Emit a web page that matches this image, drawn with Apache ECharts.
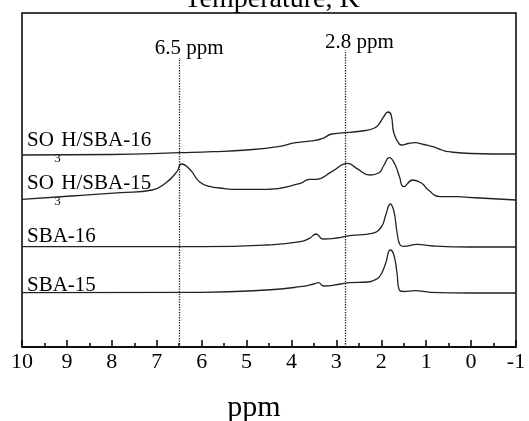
<!DOCTYPE html>
<html>
<head>
<meta charset="utf-8">
<script src="https://cdn.jsdelivr.net/npm/echarts@6/dist/echarts.min.js"></script>
<style>
html, body { margin: 0; padding: 0; background: #fff; }
#main { width: 529px; height: 421px; }
</style>
</head>
<body>
<div id="main"></div>
<script>
// spectra (ppm / intensity above each trace baseline)
var ppmSBA15 = [10, 6, 4.55, 3.8, 3.5, 3.4, 3.28, 2.9, 2.7, 2.3, 2.1, 2.0, 1.9, 1.8, 1.72, 1.65, 1.6, 1.5, 1.25, 0.9, 0, -1];
var intSBA15 = [0.3, 0.7, 3, 6.3, 9, 10.3, 7, 9, 10.3, 11, 14, 19, 30, 43, 38, 20, 3, 1.5, 2.3, 0.7, 0, 0];

var ppmSBA16 = [10, 6, 4.55, 3.8, 3.6, 3.45, 3.3, 3.0, 2.7, 2.2, 2.0, 1.9, 1.8, 1.72, 1.65, 1.58, 1.5, 1.2, 0.85, 0, -1];
var intSBA16 = [0.3, 0.3, 2, 5.3, 8.7, 13, 8, 9, 11.3, 13.7, 20, 32, 43, 36, 15, 2, 0.7, 2.7, 1, 0, 0];

var ppmSO3H15 = [10, 8.9, 7.8, 7.1, 6.8, 6.55, 6.45, 6.25, 6.05, 5.8, 5.6, 5.3, 4.55, 3.8, 3.6, 3.45, 3.1, 2.75, 2.55, 2.25, 2.05, 1.95, 1.82, 1.7, 1.6, 1.5, 1.3, 1.1, 0.95, 0.7, 0.3, 0, -1];
var intSO3H15 = [0.7, 4, 7.3, 10, 17, 28.3, 36, 30, 18.3, 13.3, 12, 10.7, 10.7, 16.7, 20.7, 20.7, 28.3, 36.7, 31.7, 25, 27.3, 34, 42.3, 36, 24, 13.3, 20, 16.7, 10, 3.3, 3.3, 2.5, 0];

var ppmSO3H16 = [10, 8, 6.5, 5.75, 5.0, 4.3, 3.9, 3.5, 3.3, 3.1, 2.7, 2.35, 2.15, 2.05, 1.95, 1.85, 1.78, 1.72, 1.6, 1.54, 1.4, 1.25, 1.05, 0.85, 0.65, 0.5, 0, -1];
var intSO3H16 = [-1, -0.5, 1.3, 2.3, 4, 7.3, 11.3, 13.3, 15.7, 20, 21.7, 23.5, 26, 30, 37, 42, 39, 21, 10, 9, 10.5, 11.3, 9.5, 7.3, 4, 2.3, 0.5, 0];

var seriesNames = ['SBA-15', 'SBA-16', 'SO3H/SBA-15', 'SO3H/SBA-16'];
var baselines = [54, 100, 147, 193];   // vertical stacking offsets
var refLines = [6.5, 2.8];
var refTops = [289, 297];
var refLabels = ['6.5 ppm', '2.8 ppm'];
var xTicks = [10, 9, 8, 7, 6, 5, 4, 3, 2, 1, 0, -1];

var ppmList = [ppmSBA15, ppmSBA16, ppmSO3H15, ppmSO3H16];
var intList = [intSBA15, intSBA16, intSO3H15, intSO3H16];

var serif = '"Liberation Serif", "DejaVu Serif", serif';
var chart = echarts.init(document.getElementById('main'));

var series = seriesNames.map(function (name, k) {
	return {
		type: 'line',
		name: name,
		data: ppmList[k].map(function (p, i) { return [p, baselines[k] + intList[k][i]]; }),
		showSymbol: false,
		smooth: 0.5,
		silent: true,
		lineStyle: { color: '#222', width: 1.3 }
	};
});

// dotted reference lines
series[0].markLine = {
	symbol: 'none',
	silent: true,
	label: { show: false },
	lineStyle: { type: 'dotted', color: '#222', width: 1.3 },
	data: refLines.map(function (r, i) {
		return [{ coord: [r, 0] }, { coord: [r, refTops[i]] }];
	})
};

chart.setOption({
	animation: false,
	backgroundColor: '#fff',
	grid: {
		left: 22, right: 13, top: 13, bottom: 74,
		outerBoundsMode: 'none', containLabel: false,
		show: true, borderColor: '#000', borderWidth: 1.5
	},
	xAxis: {
		type: 'value',
		inverse: true,
		min: -1,
		max: 10,
		interval: 1,
		name: 'ppm',
		nameLocation: 'middle',
		nameGap: 46,
		nameTextStyle: { fontFamily: serif, fontSize: 30, color: '#000', padding: [0, 30, 0, 0] },
		axisLine: { lineStyle: { color: '#000', width: 1.5 } },
		axisTick: { inside: true, length: 7, lineStyle: { color: '#000', width: 1.5 } },
		minorTick: { show: true, splitNumber: 2, length: 4, lineStyle: { color: '#000', width: 1.5 } },
		splitLine: { show: false },
		axisLabel: {
			margin: 4, fontFamily: serif, fontSize: 22, color: '#000',
			formatter: function (v) { return xTicks.indexOf(v) >= 0 ? String(v) : ''; }
		}
	},
	yAxis: {
		type: 'value', min: 0, max: 334, show: false, splitLine: { show: false }
	},
	series: series
});

// text annotations placed through the axes
function px(x, y) { return chart.convertToPixel({ gridIndex: 0 }, [x, y]); }
var ctx = document.createElement('canvas').getContext('2d');
function textW(t, size) { ctx.font = size + 'px ' + serif; return ctx.measureText(t).width; }

var graphics = [{
	type: 'text',
	style: { text: 'Temperature, K', x: 272, y: 14, fill: '#000', font: '28px ' + serif, textAlign: 'center', textVerticalAlign: 'bottom' }
}];

var refShift = [[10, 1], [14, 3]];
refLines.forEach(function (r, i) {
	var p = px(r, refTops[i]);
	graphics.push({
		type: 'text',
		style: { text: refLabels[i], x: p[0] + refShift[i][0], y: p[1] + refShift[i][1], fill: '#000', font: '21px ' + serif, textAlign: 'center', textVerticalAlign: 'bottom' }
	});
});

var labelLift = [0, 3, 9, 6];
seriesNames.forEach(function (name, k) {
	var p = px(10, baselines[k]);
	var x0 = p[0] + 5;
	var yb = p[1] - labelLift[k] + 3.2;
	if (name.indexOf('SO3H') === 0) {
		var rest = name.slice(3);
		var w1 = textW('SO', 21);
		graphics.push({ type: 'text', style: { text: 'SO', x: x0, y: yb, fill: '#000', font: '21px ' + serif, textVerticalAlign: 'bottom' } });
		graphics.push({ type: 'text', style: { text: '3', x: x0 + w1 + 0.5, y: yb + 14, fill: '#000', font: '13px ' + serif, textVerticalAlign: 'bottom' } });
		graphics.push({ type: 'text', style: { text: rest, x: x0 + w1 + 7.5, y: yb, fill: '#000', font: '21px ' + serif, textVerticalAlign: 'bottom' } });
	} else {
		graphics.push({ type: 'text', style: { text: name, x: x0, y: yb, fill: '#000', font: '21px ' + serif, textVerticalAlign: 'bottom' } });
	}
});

chart.setOption({ graphic: graphics });
</script>
</body>
</html>
